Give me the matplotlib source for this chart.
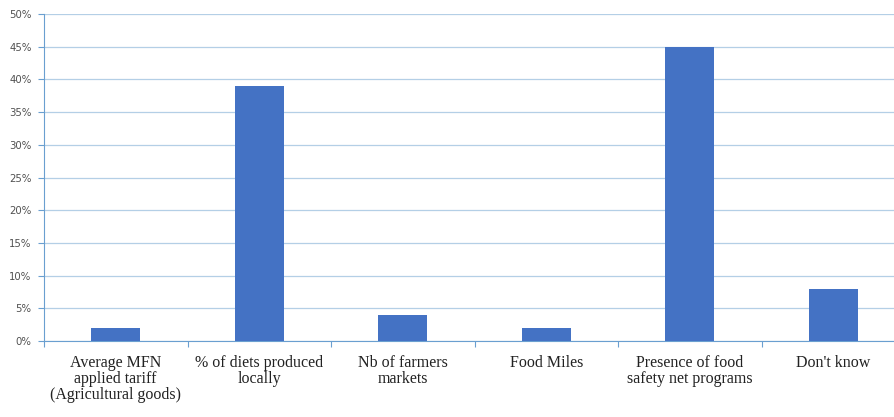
import matplotlib.pyplot as plt
import numpy as np

categories = ["Average MFN\napplied tariff\n(Agricultural goods)",
              "% of diets produced\nlocally",
              "Nb of farmers\nmarkets",
              "Food Miles",
              "Presence of food\nsafety net programs",
              "Don't know"]
shares = [2, 39, 4, 2, 45, 8]
yticks = list(range(0, 55, 5))

fig = plt.figure(figsize=(8.94, 4.17), dpi=100)
# axes run a little past the right edge, like the original crop
ax = fig.add_axes([44 / 894, 76 / 417, 861 / 894, 327 / 417])

x = np.arange(len(categories))
ax.bar(x, shares, width=0.34, color='#4472c4', zorder=3)

ax.set_xlim(-0.5, len(categories) - 0.5)
ax.set_ylim(0, 50)
ax.set_yticks(yticks)
ax.set_yticklabels([f"{v}%" for v in yticks], fontsize=7.3, color='#505050',
                   family='DejaVu Sans')
ax.yaxis.grid(True, color='#b4cfe6', linewidth=0.9, zorder=0)

# category ticks sit between bars
ax.set_xticks(np.arange(-0.5, len(categories), 1.0))
ax.set_xticklabels([])
ax.set_xticks(x, minor=True)
ax.set_xticklabels(categories, minor=True, fontsize=11.5, family='Liberation Serif',
                   color='#222222', linespacing=1.0)
ax.tick_params(axis='x', which='minor', length=0, pad=10)
ax.tick_params(axis='x', which='major', length=4, color='#6a9fd0', direction='out')
ax.tick_params(axis='y', length=4, color='#6a9fd0', pad=5)

for side in ['top', 'right']:
    ax.spines[side].set_visible(False)
ax.spines['left'].set_color('#6a9fd0')
ax.spines['bottom'].set_color('#6a9fd0')

fig.savefig("out.png", dpi=100)
